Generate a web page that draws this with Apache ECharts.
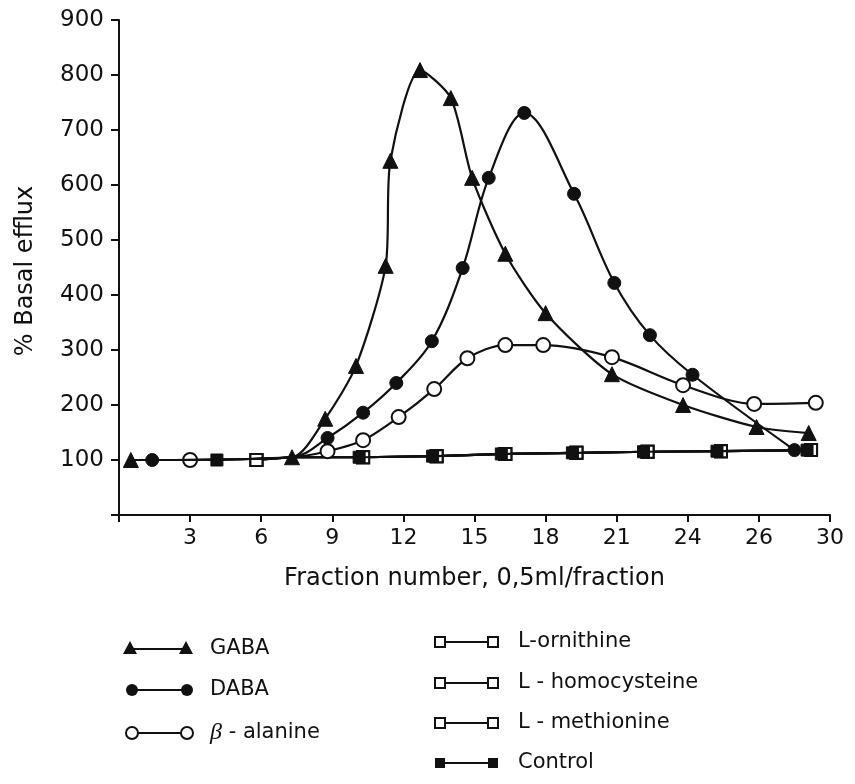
<!DOCTYPE html>
<html>
<head>
<meta charset="utf-8">
<script src="https://cdn.jsdelivr.net/npm/echarts@6/dist/echarts.min.js"></script>
<style>
html, body { margin: 0; background: #fff; }
</style>
</head>
<body>
<div id="fractionChart" style="width: 855px; height: 784px;"></div>
<script>
// tick labels as printed in the figure (27 is printed as "26")
const xTickLabels = ['', '3', '6', '9', '12', '15', '18', '21', '24', '26', '30']
const yTickLabels = ['', '100', '200', '300', '400', '500', '600', '700', '800', '900']

// [fraction, % basal efflux]
const gaba = [[0.5, 100], [7.3, 105], [8.7, 175], [10.0, 271], [11.25, 453], [11.45, 644], [12.7, 809], [14.0, 758], [14.9, 613], [16.3, 475], [18.0, 367], [20.8, 256], [23.8, 200], [26.9, 160], [29.1, 149]]
const daba = [[1.4, 100], [7.3, 105], [8.8, 140], [10.3, 186], [11.7, 240], [13.2, 316], [14.5, 449], [15.6, 613], [17.1, 731], [19.2, 584], [20.9, 422], [22.4, 327], [24.2, 255], [28.5, 118]]
const betaAlanine = [[3.0, 100], [7.3, 105], [8.8, 116], [10.3, 136], [11.8, 178], [13.3, 229], [14.7, 285], [16.3, 309], [17.9, 309], [20.8, 287], [23.8, 236], [26.8, 202], [29.4, 204]]
const ornithine = [[5.8, 100], [7.3, 105], [10.3, 105], [13.4, 107], [16.3, 111], [19.3, 113], [22.3, 115], [25.4, 116], [29.2, 118]]
const homocysteine = [[5.8, 100], [7.3, 105], [10.3, 105], [13.4, 107], [16.3, 111], [19.3, 113], [22.3, 115], [25.4, 116], [29.2, 118]]
const methionine = [[5.8, 100], [7.3, 105], [10.3, 105], [13.4, 107], [16.3, 111], [19.3, 113], [22.3, 115], [25.4, 116], [29.2, 118]]
const control = [[4.3, 100], [7.3, 105], [10.3, 105], [13.4, 107], [16.3, 111], [19.3, 113], [22.3, 115], [25.4, 116], [29.2, 118]]

// curves meet here, only GABA has a marker at this point
const junctionX = 7.3

const ink = '#111'
const font = 'DejaVu Sans'

function withJunction(points) {
    return points.map(p => p[0] === junctionX ? { value: p, symbol: 'none' } : p)
}

function makeSeries(name, points, opts) {
    return Object.assign({
        name: name,
        type: 'line',
        data: points,
        symbolSize: 12,
        lineStyle: { color: ink, width: 2.2 },
        itemStyle: { color: '#fff', borderColor: ink, borderWidth: 2 },
        emphasis: { disabled: true },
        animation: false,
    }, opts)
}

// legend drawn by hand so the icon has a marker at both ends like the original
function legendMarker(kind, cx, cy) {
    if (kind === 'triangle') {
        return { type: 'polygon', shape: { points: [[cx, cy - 8], [cx - 7, cy + 5], [cx + 7, cy + 5]] }, style: { fill: ink } }
    }
    if (kind === 'dot') {
        return { type: 'circle', shape: { cx: cx, cy: cy, r: 6 }, style: { fill: ink } }
    }
    if (kind === 'ring') {
        return { type: 'circle', shape: { cx: cx, cy: cy, r: 6 }, style: { fill: '#fff', stroke: ink, lineWidth: 2 } }
    }
    if (kind === 'box') {
        return { type: 'rect', shape: { x: cx - 5, y: cy - 5, width: 10, height: 10 }, style: { fill: '#fff', stroke: ink, lineWidth: 2 } }
    }
    return { type: 'rect', shape: { x: cx - 5, y: cy - 5, width: 10, height: 10 }, style: { fill: ink } }
}

function legendItem(kind, label, x0, x1, textX, y) {
    return {
        type: 'group',
        children: [
            { type: 'line', shape: { x1: x0, y1: y, x2: x1, y2: y }, style: { stroke: ink, lineWidth: 2 } },
            legendMarker(kind, x0, y),
            legendMarker(kind, x1, y),
            {
                type: 'text',
                x: textX,
                y: y,
                style: { text: label, fill: ink, fontSize: 21, fontFamily: font, verticalAlign: 'middle',
                    rich: { b: { fontStyle: 'italic', fontSize: 24, fontFamily: 'Liberation Serif' } } }
            }
        ]
    }
}

const chart = echarts.init(document.getElementById('fractionChart'), null, { renderer: 'canvas' })

chart.setOption({
    backgroundColor: '#fff',
    animation: false,
    textStyle: { fontFamily: font, color: ink },
    grid: { left: 119, right: 25, top: 20, bottom: 269 },
    xAxis: {
        type: 'value',
        min: 0,
        max: 30,
        interval: 3,
        name: 'Fraction number, 0,5ml/fraction',
        nameLocation: 'middle',
        nameGap: 52,
        nameTextStyle: { fontSize: 24, color: ink, fontFamily: font },
        splitLine: { show: false },
        axisLine: { lineStyle: { color: ink, width: 2 } },
        axisTick: { length: 7, lineStyle: { color: ink, width: 2 } },
        axisLabel: {
            fontSize: 22,
            color: ink,
            margin: 12,
            formatter: v => xTickLabels[Math.round(v / 3)]
        },
    },
    yAxis: {
        type: 'value',
        min: 0,
        max: 900,
        interval: 100,
        splitLine: { show: false },
        axisLine: { show: true, lineStyle: { color: ink, width: 2 } },
        axisTick: { length: 8, lineStyle: { color: ink, width: 2 } },
        axisLabel: {
            fontSize: 23,
            color: ink,
            margin: 15,
            formatter: v => yTickLabels[Math.round(v / 100)]
        },
    },
    graphic: [
        {
            type: 'text',
            x: 26,
            y: 271,
            rotation: Math.PI / 2,
            style: { text: '% Basal efflux', fill: ink, fontSize: 24, fontFamily: font, align: 'center', verticalAlign: 'middle' }
        },
        legendItem('triangle', 'GABA', 130, 186, 210, 649),
        legendItem('dot', 'DABA', 132, 187, 210, 690),
        legendItem('ring', '{b|β} - alanine', 132, 187, 210, 733),
        legendItem('box', 'L-ornithine', 440, 493, 518, 642),
        legendItem('box', 'L - homocysteine', 440, 493, 518, 683),
        legendItem('box', 'L - methionine', 440, 493, 518, 723),
        legendItem('fill', 'Control', 440, 493, 518, 763),
    ],
    series: [
        makeSeries('L-ornithine', withJunction(ornithine), { symbol: 'rect', symbolSize: 12, z: 2 }),
        makeSeries('L-homocysteine', withJunction(homocysteine), { symbol: 'rect', symbolSize: 12, z: 2 }),
        makeSeries('L-methionine', withJunction(methionine), { symbol: 'rect', symbolSize: 12, z: 2 }),
        makeSeries('Control', withJunction(control), {
            symbol: 'rect', symbolSize: 12, symbolOffset: [-4, 0], z: 3,
            itemStyle: { color: ink, borderColor: ink, borderWidth: 1 }
        }),
        makeSeries('β-alanine', withJunction(betaAlanine), { symbol: 'circle', symbolSize: 14, smooth: 0.3, z: 4 }),
        makeSeries('DABA', withJunction(daba), {
            symbol: 'circle', symbolSize: 13, smooth: 0.35, z: 5,
            itemStyle: { color: ink, borderColor: ink, borderWidth: 1 }
        }),
        makeSeries('GABA', gaba, {
            symbol: 'triangle', symbolSize: 15, smooth: 0.25, z: 6,
            itemStyle: { color: ink, borderColor: ink, borderWidth: 1 }
        }),
    ]
})

window.addEventListener('resize', () => {
    if (chart) chart.resize()
})
</script>
</body>
</html>
